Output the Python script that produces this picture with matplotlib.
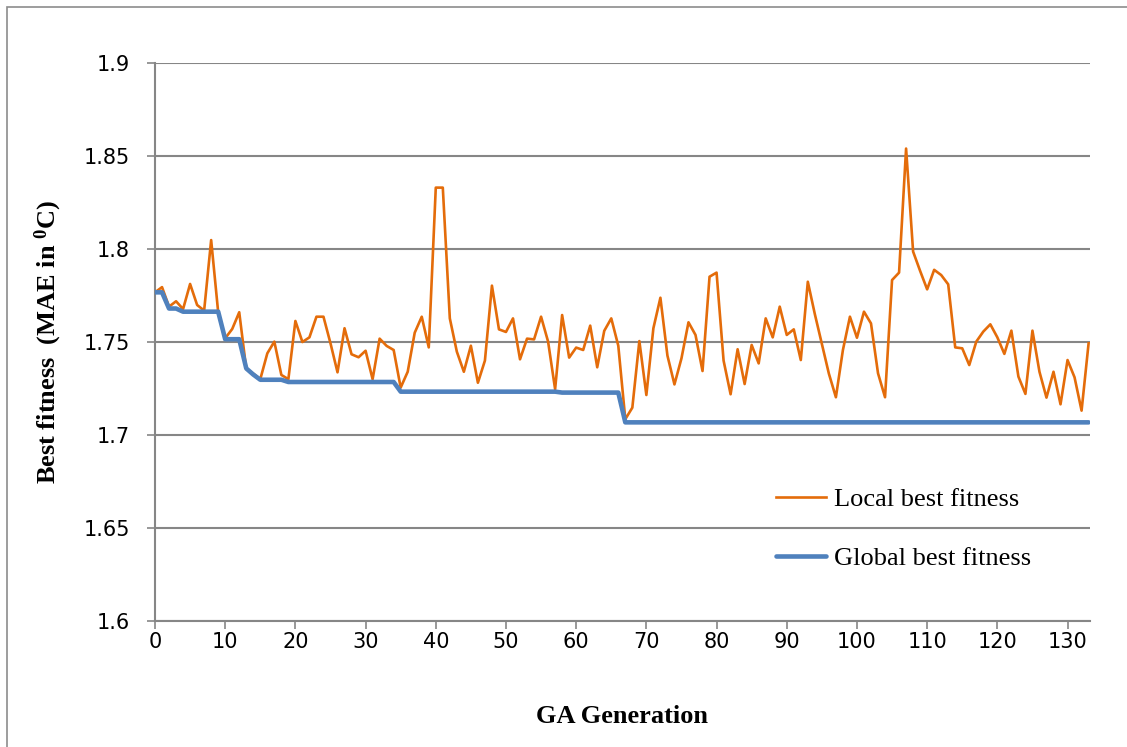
import matplotlib
matplotlib.use("Agg")
import matplotlib.pyplot as plt
from matplotlib.patches import Rectangle

# GA generations 0..133
generation = list(range(134))

local_best = [
    1.7767, 1.7795, 1.7690, 1.7719, 1.7677, 1.7812, 1.7699, 1.7669, 1.8048, 1.7660,
    1.7520, 1.7570, 1.7660, 1.7355, 1.7330, 1.7300, 1.7439, 1.7502, 1.7323, 1.7300,
    1.7613, 1.7500, 1.7525, 1.7636, 1.7636, 1.7493, 1.7337, 1.7574, 1.7434, 1.7418,
    1.7453, 1.7300, 1.7518, 1.7479, 1.7457, 1.7255, 1.7340, 1.7550, 1.7636, 1.7471,
    1.8330, 1.8330, 1.7627, 1.7448, 1.7340, 1.7480, 1.7281, 1.7400, 1.7803, 1.7568,
    1.7554, 1.7627, 1.7407, 1.7518, 1.7514, 1.7636, 1.7502, 1.7246, 1.7645, 1.7416,
    1.7470, 1.7457, 1.7588, 1.7364, 1.7560, 1.7627, 1.7480, 1.7085, 1.7147, 1.7505,
    1.7215, 1.7574, 1.7738, 1.7427, 1.7272, 1.7412, 1.7606, 1.7538, 1.7344, 1.7851,
    1.7873, 1.7400, 1.7219, 1.7461, 1.7274, 1.7484, 1.7385, 1.7627, 1.7525, 1.7690,
    1.7538, 1.7568, 1.7403, 1.7824, 1.7650, 1.7490, 1.7330, 1.7203, 1.7457, 1.7636,
    1.7523, 1.7663, 1.7600, 1.7332, 1.7203, 1.7833, 1.7873, 1.8540, 1.7986, 1.7882,
    1.7783, 1.7888, 1.7860, 1.7810, 1.7471, 1.7466, 1.7376, 1.7502, 1.7556, 1.7595,
    1.7525, 1.7436, 1.7561, 1.7314, 1.7221, 1.7561, 1.7340, 1.7201, 1.7340, 1.7165,
    1.7403, 1.7310, 1.7131, 1.7493,
]

global_best = (
    [1.7767] * 2 + [1.7680] * 2 + [1.7663] * 6 + [1.7515] * 3 + [1.7358, 1.7325]
    + [1.7297] * 4 + [1.7285] * 16 + [1.7233] * 23 + [1.7228] * 9 + [1.7068] * 67
)

y_ticks = [1.6, 1.65, 1.7, 1.75, 1.8, 1.85, 1.9]
x_ticks = list(range(0, 131, 10))

grid_col = "#868686"
tick_font = ["Liberation Sans Narrow", "DejaVu Sans"]
serif_font = ["Liberation Serif", "DejaVu Serif"]

fig = plt.figure(figsize=(11.27, 7.47), dpi=100)
ax = fig.add_axes([155 / 1127, 1 - 621 / 747, 935 / 1127, 558 / 747])

ax.plot(generation, local_best, color="#E46C0A", lw=1.9, label="Local best fitness",
        solid_joinstyle="round", zorder=3)
ax.plot(generation, global_best, color="#4F81BD", lw=3.3, label="Global best fitness",
        solid_capstyle="round", zorder=4)

ax.set_xlim(0, 133.2)
ax.set_ylim(1.6, 1.9)
ax.set_yticks(y_ticks)
ax.set_yticklabels([f"{v:g}" for v in y_ticks])
ax.set_xticks(x_ticks)
ax.grid(axis="y", color=grid_col, lw=1.5)
ax.set_axisbelow(True)

for s in ["top", "right"]:
    ax.spines[s].set_visible(False)
for s in ["left", "bottom"]:
    ax.spines[s].set_color(grid_col)
    ax.spines[s].set_linewidth(1.5)
ax.tick_params(axis="both", direction="out", length=6, width=1.2, color=grid_col,
               labelsize=15)
ax.tick_params(axis="x", pad=2)
ax.tick_params(axis="y", pad=12)
for lab in ax.get_xticklabels() + ax.get_yticklabels():
    lab.set_family(tick_font)

ax.set_xlabel("GA Generation", family=serif_font, fontweight="bold", fontsize=19,
              labelpad=38)
ax.set_ylabel(r"Best fitness  (MAE in $\mathregular{^0}$C)", family=serif_font,
              fontweight="bold", fontsize=19, labelpad=14)

ax.legend(loc="upper left", bbox_to_anchor=(0.650, 0.263), frameon=False,
          prop={"family": serif_font, "size": 19}, handlelength=1.9,
          handletextpad=0.3, labelspacing=1.35, borderpad=0)

# outer chart frame
fig.patches.append(Rectangle((7 / 1127, -0.2), 1.5, 1.2 - 7 / 747,
                             transform=fig.transFigure, fill=False,
                             edgecolor="#8c8c8c", lw=1.2))

fig.savefig("out.png", dpi=100)
